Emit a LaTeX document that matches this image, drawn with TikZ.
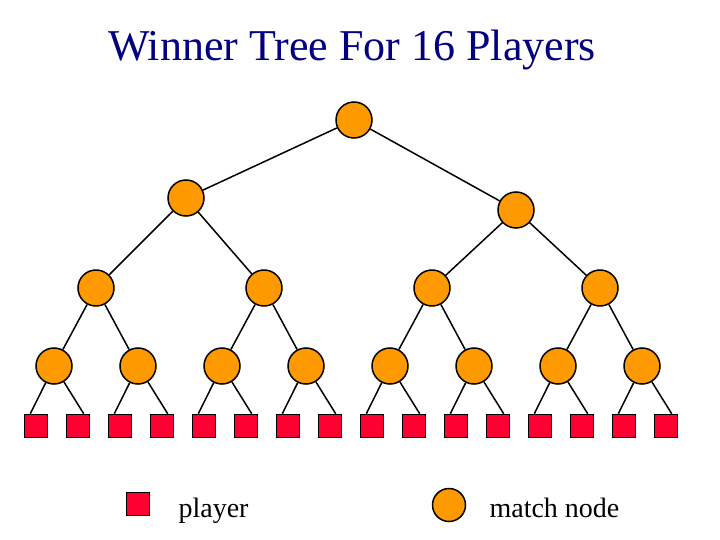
\documentclass[tikz,border=0pt]{standalone}
\usepackage{fontspec}
\setmainfont{Liberation Serif}
\definecolor{matchorange}{RGB}{255,153,0}
\definecolor{playerred}{RGB}{255,0,51}
\definecolor{titleblue}{RGB}{0,0,128}
\begin{document}
\begin{tikzpicture}[x=1pt,y=-1pt,
    match/.style={circle,draw,line width=1.5pt,fill=matchorange,minimum size=36pt,inner sep=0pt},
    player/.style={rectangle,draw,line width=1.5pt,fill=playerred,minimum size=23pt,inner sep=0pt},
    label/.style={font=\fontsize{28}{32}\selectfont,anchor=base west}]
      \useasboundingbox (0,0) rectangle (720,540);
      \node[text=titleblue,font=\fontsize{44}{50}\selectfont,anchor=base] (title) at (352,61) {Winner Tree For 16 Players};
      \draw
        (354,120) node[match] (1){}
        (186,198) node[match] (2){}
        (516,210) node[match] (3){}
        (96,288) node[match] (4){}
        (264,288) node[match] (5){}
        (432,288) node[match] (6){}
        (600,288) node[match] (7){}
        (54,366) node[match] (8){}
        (138,366) node[match] (9){}
        (222,366) node[match] (10){}
        (306,366) node[match] (11){}
        (390,366) node[match] (12){}
        (474,366) node[match] (13){}
        (558,366) node[match] (14){}
        (642,366) node[match] (15){}
        (36,426) node[player] (16){}
        (78,426) node[player] (17){}
        (120,426) node[player] (18){}
        (162,426) node[player] (19){}
        (204,426) node[player] (20){}
        (246,426) node[player] (21){}
        (288,426) node[player] (22){}
        (330,426) node[player] (23){}
        (372,426) node[player] (24){}
        (414,426) node[player] (25){}
        (456,426) node[player] (26){}
        (498,426) node[player] (27){}
        (540,426) node[player] (28){}
        (582,426) node[player] (29){}
        (624,426) node[player] (30){}
        (666,426) node[player] (31){};
      \begin{scope}[-,line width=1.5pt]
        \draw (1) to (2);
        \draw (1) to (3);
        \draw (2) to (4);
        \draw (2) to (5);
        \draw (3) to (6);
        \draw (3) to (7);
        \draw (4) to (8);
        \draw (4) to (9);
        \draw (5) to (10);
        \draw (5) to (11);
        \draw (6) to (12);
        \draw (6) to (13);
        \draw (7) to (14);
        \draw (7) to (15);
        \draw (8) to (16.115);
        \draw (8) to (17.65);
        \draw (9) to (18.115);
        \draw (9) to (19.65);
        \draw (10) to (20.115);
        \draw (10) to (21.65);
        \draw (11) to (22.115);
        \draw (11) to (23.65);
        \draw (12) to (24.115);
        \draw (12) to (25.65);
        \draw (13) to (26.115);
        \draw (13) to (27.65);
        \draw (14) to (28.115);
        \draw (14) to (29.65);
        \draw (15) to (30.115);
        \draw (15) to (31.65);
      \end{scope}
      \node[player] (keyplayer) at (138,504) {};
      \node[label] (playertext) at (175,517) {player};
      \node[match,minimum size=33pt] (keymatch) at (449,505) {};
      \node[label] (matchtext) at (486,517) {match node};
    \end{tikzpicture}
\end{document}
